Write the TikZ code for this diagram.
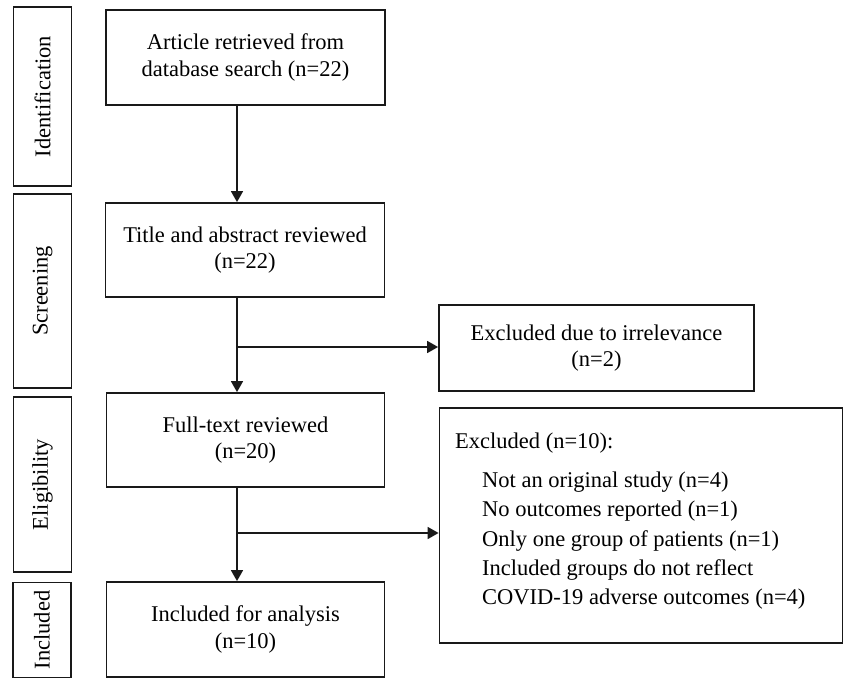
\documentclass[tikz,border=0pt]{standalone}
\usepackage{fontspec}
\setmainfont{Liberation Serif}
\usetikzlibrary{arrows.meta,calc}
\begin{document}
\begin{tikzpicture}[x=1pt,y=-1pt,
  box/.style={draw=black!90, line width=1.8pt, inner sep=0pt, align=center,
    font=\fontsize{22.5}{26.5}\selectfont},
  side/.style={draw=black!90, line width=1.8pt, inner sep=0pt, minimum width=58pt,
    font=\fontsize{22.5}{26.5}\selectfont},
  sidetext/.style={rotate=90, font=\fontsize{22.5}{26.5}\selectfont},
  listtext/.style={anchor=base west, inner sep=0pt, font=\fontsize{22.5}{26.5}\selectfont},
  arr/.style={draw=black!90, line width=1.6pt, -{Triangle[width=12pt,length=11pt]}}]
\useasboundingbox (0,0) rectangle (844,680);
% phase boxes
\node[side, minimum height=179pt] (s1) at (42.5,96.5) {};
\node[sidetext] (s1t) at (s1.center) {Identification};
\node[side, minimum height=194pt] (s2) at (42.5,291) {};
\node[sidetext] (s2t) at (s2.center) {Screening};
\node[side, minimum height=175pt] (s3) at (42.5,484.5) {};
\node[sidetext] (s3t) at (s3.center) {Eligibility};
\node[side, minimum height=95pt] (s4) at (42,630) {};
\node[sidetext] (s4t) at (s4.center) {Included};
% main boxes
\node[box, minimum width=279pt, minimum height=95pt] (art) at (245.5,57.5) {Article retrieved from\\database search (n=22)};
\node[box, minimum width=279pt, minimum height=94pt] (tit) at (245,250) {Title and abstract reviewed\\(n=22)};
\node[box, minimum width=278pt, minimum height=94pt] (ful) at (245.5,440) {Full-text reviewed\\(n=20)};
\node[box, minimum width=278pt, minimum height=95pt] (inc) at (245.5,629.5) {Included for analysis\\(n=10)};
\node[box, minimum width=315pt, minimum height=86pt] (ex1) at (596.5,348) {Excluded due to irrelevance\\(n=2)};
\node[box, minimum width=403pt, minimum height=235pt] (ex2) at (641,525.5) {};
\node[listtext] (l0) at (455,448) {Excluded (n=10):};
\node[listtext] (l1) at (482,487) {Not an original study (n=4)};
\node[listtext] (l2) at (482,516.5) {No outcomes reported (n=1)};
\node[listtext] (l3) at (482,546) {Only one group of patients (n=1)};
\node[listtext] (l4) at (482,575) {Included groups do not reflect};
\node[listtext] (l5) at (482,604) {COVID-19 adverse outcomes (n=4)};
% connectors
\coordinate (ax) at (237,0);
\coordinate (b1) at (237,347);
\coordinate (b2) at (237,533);
\draw[arr] (art.south -| ax) -- (tit.north -| ax);
\draw[arr] (tit.south -| ax) -- (ful.north -| ax);
\draw[arr] (ful.south -| ax) -- (inc.north -| ax);
\draw[arr] (b1) -- (b1 -| ex1.west);
\draw[arr] (b2) -- (b2 -| ex2.west);
\end{tikzpicture}
\end{document}
